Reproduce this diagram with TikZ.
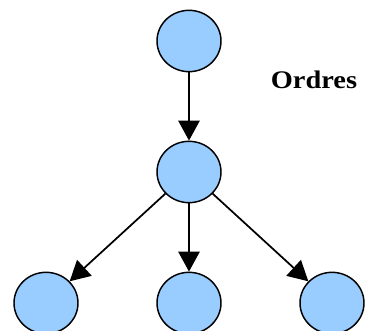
\documentclass[tikz,border=0pt]{standalone}
\usepackage{fontspec}
\setmainfont{Liberation Serif}
\usetikzlibrary{arrows.meta,shapes.geometric}

\tikzset{every picture/.style={line width=0.75pt}}
\tikzset{
  state/.style={ellipse, draw=black, line width=1.1pt, fill={rgb,255:red,153;green,204;blue,255}, minimum width=48pt, minimum height=46pt, inner sep=0pt},
  order/.style={-{Triangle[length=15pt,width=16pt]}, line width=1.3pt}
}

\begin{document}
\begin{tikzpicture}[x=0.75pt,y=0.75pt,yscale=-1,xscale=1]
	\useasboundingbox (0,0) rectangle (368,331);

	% States
	\node[state] (root) at (189,41) {};
	\node[state] (mid) at (189,172) {};
	\node[state] (left) at (46,303) {};
	\node[state] (centre) at (189,303) {};
	\node[state] (right) at (332,303) {};

	% Text Node
	\node[font=\bfseries\fontsize{19}{21}\selectfont, xscale=1.12] (lbl) at (314,80) {Ordres};

	% Arrows
	\draw[order] (root) -- (mid);
	\draw[order] (mid) -- (left);
	\draw[order] (mid) -- (centre);
	\draw[order] (mid) -- (right);

\end{tikzpicture}
\end{document}
